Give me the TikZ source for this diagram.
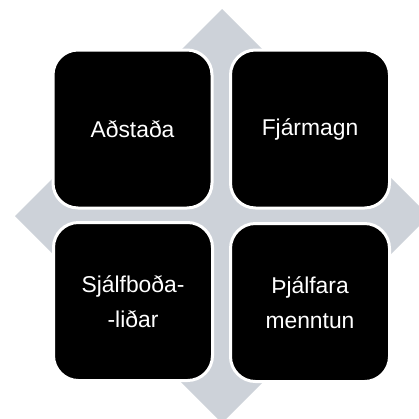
\documentclass[tikz,border=0pt]{standalone}
\usepackage{fontspec}
\setmainfont{Liberation Sans}
\usepackage{tikz}

\definecolor{diamondgray}{RGB}{205,210,217}

\begin{document}
\begin{tikzpicture}[
    box/.style={fill=black, draw=white, line width=0.6mm, rounded corners=0.5cm,
        minimum width=3.18cm, minimum height=3.16cm, align=center,
        text=white, font=\fontsize{13}{20}\selectfont}]
    \useasboundingbox (0,0) rectangle (8.38,8.36);
    \clip (0,0) rectangle (8.38,8.36);
    \fill[diamondgray] (4.44,8.18) -- (8.58,4.04) -- (4.44,-0.10) -- (0.30,4.04) -- cycle;

    \node[box] (adstada) at (2.65,5.78) {Aðstaða};
    \node[box] (fjarmagn) at (6.20,5.78) {Fjármagn};
    \node[box] (sjalfbodalidar) at (2.66,2.33) {Sjálfboða-\\-liðar};
    \node[box] (thjalfara) at (6.20,2.31) {Þjálfara\\menntun};
\end{tikzpicture}
\end{document}
